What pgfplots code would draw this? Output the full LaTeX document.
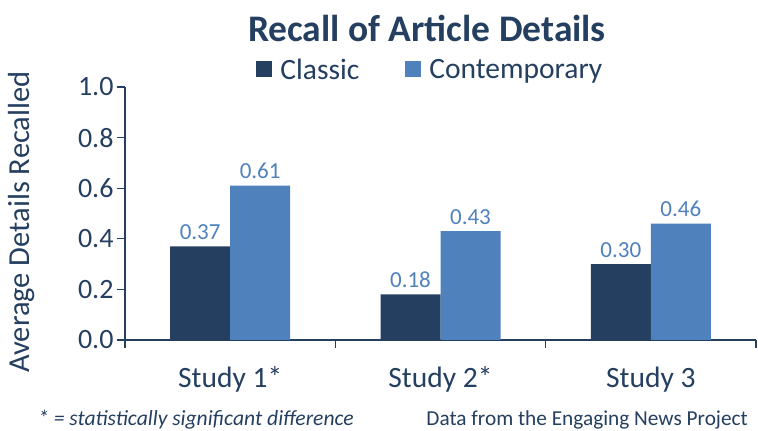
\documentclass[border=0pt]{standalone}
\usepackage{pgfplots}
\pgfplotsset{compat=1.18}
\usepackage{fontspec}
\setmainfont{Carlito}
\definecolor{navy}{HTML}{243F60}
\definecolor{lblue}{HTML}{4F81BD}
\begin{document}
\begin{tikzpicture}[x=1pt,y=1pt]
\useasboundingbox (0,0) rectangle (758,431);
\begin{axis}[
  at={(125pt,91pt)}, anchor=south west,
  scale only axis, width=631pt, height=253pt,
  ymin=0, ymax=1, xmin=-0.5, xmax=2.5,
  ybar=0pt, bar width=60pt,
  axis x line*=bottom, axis y line*=left,
  axis line style={navy, line width=1.2pt, -},
  ytick={0,0.2,0.4,0.6,0.8,1.0},
  yticklabel style={/pgf/number format/fixed, /pgf/number format/fixed zerofill, /pgf/number format/precision=1, font=\fontsize{28}{28}\selectfont},
  /pgf/number format/assume math mode=true,
  xtick={0,1,2}, xticklabels={Study 1*, Study 2*, Study 3},
  minor xtick={-0.5,0.5,1.5,2.5},
  tick style={navy, line width=1.2pt},
  tick align=outside,
  major tick length=8pt, minor tick length=8pt,
  major x tick style={draw=none},
  ticklabel style={text=navy},
  xticklabel style={yshift=-15pt, font=\fontsize{29.5}{29.5}\selectfont},
  nodes near coords,
  nodes near coords style={font=\fontsize{23}{23}\selectfont, text=lblue,
    /pgf/number format/fixed, /pgf/number format/fixed zerofill, /pgf/number format/precision=2, yshift=3pt},
  legend style={at={(axis description cs:0.484,1.067)}, anchor=center, draw=none,
    font=\fontsize{29.5}{29.5}\selectfont, text=navy, column sep=6pt,
    /tikz/every even column/.append style={column sep=44pt}},
  legend columns=2,
  legend image code/.code={\fill[#1] (0pt,-7pt) rectangle (16pt,9pt);},
]
\addplot[fill=navy, draw=none] coordinates {(0,0.37) (1,0.18) (2,0.30)};
\addplot[fill=lblue, draw=none] coordinates {(0,0.61) (1,0.43) (2,0.46)};
\legend{Classic, Contemporary}
\end{axis}
\node[font=\bfseries\fontsize{37.5}{37.5}\selectfont, text=navy] at (427,403) {Recall of Article Details};
\node[rotate=90, font=\fontsize{30.5}{30.5}\selectfont, text=navy] at (22,209) {Average Details Recalled};
\node[font=\itshape\fontsize{21.6}{21.6}\selectfont, text=navy, anchor=base west, inner sep=0pt] at (38,5) {* = statistically significant difference};
\node[font=\fontsize{21.3}{21.3}\selectfont, text=navy, anchor=base east, inner sep=0pt] at (748,5) {Data from the Engaging News Project};
\end{tikzpicture}
\end{document}
